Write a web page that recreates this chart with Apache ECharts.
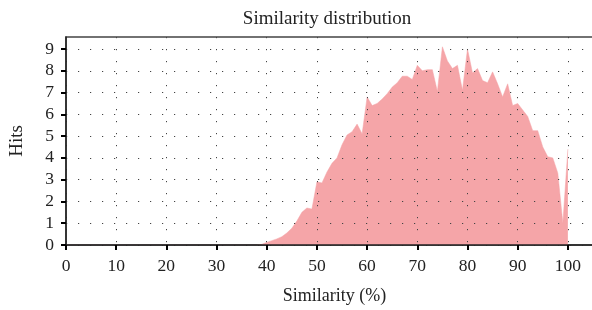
<!DOCTYPE html>
<html>
<head>
<meta charset="utf-8">
<script src="https://cdn.jsdelivr.net/npm/echarts@6/dist/echarts.min.js"></script>
<style>
  html, body { margin: 0; padding: 0; background: #fff; }
  #chart { width: 592px; height: 310px; }
</style>
</head>
<body>
<div id="chart"></div>
<script>
// similarity (%) -> hits
var similarity = [];
for (var s = 0; s <= 100; s++) similarity.push(s);

var hits = [
    0, 0, 0, 0, 0, 0, 0, 0, 0, 0,          // 0-9
    0, 0, 0, 0, 0, 0, 0, 0, 0, 0,          // 10-19
    0, 0, 0, 0, 0, 0, 0, 0, 0, 0,          // 20-29
    0, 0, 0, 0, 0, 0, 0, 0, 0, 0.03,       // 30-39
    0.12, 0.2, 0.28, 0.38, 0.55, 0.77, 1.1, 1.5, 1.7, 1.65,   // 40-49
    2.9, 2.85, 3.35, 3.75, 4.0, 4.6, 5.05, 5.2, 5.55, 5.1,    // 50-59
    6.8, 6.4, 6.5, 6.7, 6.95, 7.25, 7.45, 7.75, 7.75, 7.6,    // 60-69
    8.25, 8.0, 8.05, 8.05, 7.05, 9.1, 8.45, 8.1, 8.25, 7.1,   // 70-79
    9.0, 7.9, 8.1, 7.55, 7.45, 7.95, 7.4, 6.8, 7.4, 6.4,      // 80-89
    6.5, 6.2, 5.9, 5.25, 5.25, 4.5, 4.05, 4.0, 3.3, 1.0,      // 90-99
    4.4                                                        // 100
];

var xTicks = [0, 10, 20, 30, 40, 50, 60, 70, 80, 90, 100];
var yTicks = [0, 1, 2, 3, 4, 5, 6, 7, 8, 9];

var font = '"Liberation Serif", "DejaVu Serif", serif';
var fill = '#f5a5a8';
var dots = {
    show: true,
    lineStyle: { color: '#444', width: 1, type: [1.2, 10.8] }
};

var chart = echarts.init(document.getElementById('chart'));

var option = {
    animation: false,
    title: {
        text: 'Similarity distribution',
        left: 322,
        top: 5,
        textAlign: 'center',
        textStyle: { fontFamily: font, fontSize: 19, fontWeight: 'normal', color: '#222' }
    },
    grid: {
        left: 66,
        right: -11,
        top: 37,
        bottom: 65,
        outerBoundsMode: 'none',
        containLabel: false,
        show: true,
        borderColor: '#444',
        borderWidth: 1.5
    },
    xAxis: {
        type: 'value',
        min: 0,
        max: 107,
        interval: 10,
        z: 5,
        name: 'Similarity (%)',
        nameLocation: 'middle',
        nameGap: 42,
        nameTextStyle: { fontFamily: font, fontSize: 18, color: '#222' },
        axisLine: { show: true, onZero: false, lineStyle: { color: '#222', width: 1.5 } },
        axisTick: { show: true, length: 5, customValues: xTicks, lineStyle: { color: '#000', width: 2 } },
        axisLabel: { customValues: xTicks, margin: 12, fontFamily: font, fontSize: 17.5, color: '#222' },
        splitLine: dots
    },
    yAxis: {
        type: 'value',
        min: 0,
        max: 9.55,
        interval: 1,
        z: 5,
        name: 'Hits',
        nameLocation: 'middle',
        nameGap: 39,
        nameTextStyle: { fontFamily: font, fontSize: 19, color: '#222' },
        axisLine: { show: true, lineStyle: { color: '#222', width: 1.5 } },
        axisTick: { show: true, length: 5, customValues: yTicks, lineStyle: { color: '#000', width: 2 } },
        axisLabel: { customValues: yTicks, margin: 12, fontFamily: font, fontSize: 17.5, color: '#222' },
        splitLine: dots
    },
    series: [{
        type: 'line',
        data: similarity.map(function (x, i) { return [x, hits[i]]; }),
        symbol: 'none',
        lineStyle: { width: 0.5, color: fill },
        areaStyle: { color: fill, opacity: 1 },
        z: 1
    }]
};

chart.setOption(option);
</script>
</body>
</html>
